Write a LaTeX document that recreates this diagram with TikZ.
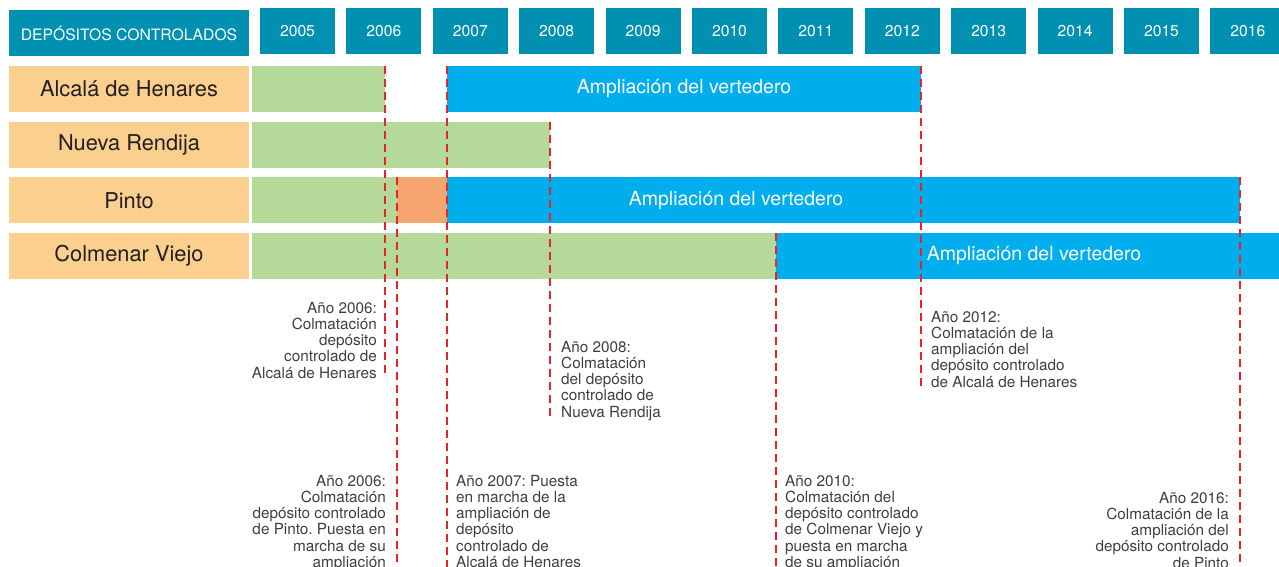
\documentclass[tikz,border=0pt]{standalone}
\usepackage{fontspec}
\setmainfont{TeX Gyre Heros}
\usetikzlibrary{positioning}
\definecolor{headteal}{RGB}{0,145,178}
\definecolor{namepeach}{RGB}{251,207,142}
\definecolor{greenbar}{RGB}{181,217,152}
\definecolor{bluebar}{RGB}{0,174,238}
\definecolor{orangebar}{RGB}{246,165,111}
\definecolor{cutred}{RGB}{236,34,41}
\definecolor{nametext}{RGB}{35,31,32}
\definecolor{notegray}{RGB}{62,62,62}
\frenchspacing
\begin{document}
\begin{tikzpicture}[x=1pt, y=-1pt, node distance=86.4pt,
  yearbox/.style={fill=headteal, text=white, minimum width=75pt, minimum height=46pt, inner sep=0pt, outer sep=0pt, font=\fontsize{15.7}{18}\selectfont},
  namebox/.style={fill=namepeach, text=nametext, minimum width=240pt, minimum height=46pt, inner sep=0pt, outer sep=0pt, font=\fontsize{21.8}{24}\selectfont},
  bar/.style={minimum height=46pt, inner sep=0pt, outer sep=0pt, anchor=north west, text=white, font=\fontsize{19.5}{22}\selectfont},
  cutline/.style={draw=cutred, line width=2.6pt, dash pattern=on 8pt off 5pt},
  note/.style={inner sep=0pt, text=notegray, font=\fontsize{15.3}{16.2}\selectfont}]

  \useasboundingbox (0,0) rectangle (1279,566);

  % Header row
  \node[yearbox, minimum width=240pt] (head) at (129,33) {DEPÓSITOS CONTROLADOS};
  \node[yearbox] (y2005) at (297.5,31) {2005};
  \node[yearbox, right of=y2005] (y2006) {2006};
  \node[yearbox, right of=y2006] (y2007) {2007};
  \node[yearbox, right of=y2007] (y2008) {2008};
  \node[yearbox, right of=y2008] (y2009) {2009};
  \node[yearbox, right of=y2009] (y2010) {2010};
  \node[yearbox, right of=y2010] (y2011) {2011};
  \node[yearbox, right of=y2011] (y2012) {2012};
  \node[yearbox, right of=y2012] (y2013) {2013};
  \node[yearbox, right of=y2013] (y2014) {2014};
  \node[yearbox, right of=y2014] (y2015) {2015};
  \node[yearbox, right of=y2015] (y2016) {2016};

  % Names
  \node[namebox] (alcala) at (129,89) {Alcalá de Henares};
  \node[namebox, below of=alcala, node distance=55.67pt] (rendija) {Nueva Rendija};
  \node[namebox, below of=rendija, node distance=55.67pt] (pinto) {Pinto};
  \node[namebox, below of=pinto, node distance=55.67pt] (colmenar) {Colmenar Viejo};

  % Bars
  \node[bar, fill=greenbar, minimum width=133pt] (alcOld) at (252,66) {};
  \node[bar, fill=bluebar, minimum width=474pt] (alcNew) at (447,66) {Ampliación del vertedero};
  \node[bar, fill=greenbar, minimum width=298pt] (renOld) at (252,121.67) {};
  \node[bar, fill=greenbar, minimum width=145pt] (pinOld) at (252,177.33) {};
  \node[bar, fill=orangebar, minimum width=50pt] (pinFull) at (397,177.33) {};
  \node[bar, fill=bluebar, minimum width=793pt] (pinNew) at (447,177.33) {};
  \node[text=white, font=\fontsize{19.5}{22}\selectfont] (pinText) at (736,200.33) {Ampliación del vertedero};
  \node[bar, fill=greenbar, minimum width=524pt] (colOld) at (252,233) {};
  \node[bar, fill=bluebar, minimum width=516pt] (colNew) at (776,233) {Ampliación del vertedero};

  % Line ends
  \coordinate (endA) at (385,377);
  \coordinate (endB) at (397,570);
  \coordinate (endC) at (447,570);
  \coordinate (endD) at (550,417);
  \coordinate (endE) at (776,570);
  \coordinate (endF) at (921,387);
  \coordinate (endG) at (1240,570);

  % dashed lines
  \draw[cutline] (alcOld.north east) -- (endA);
  \draw[cutline] (pinFull.north west) -- (endB);
  \draw[cutline] (alcNew.north west) -- (endC);
  \draw[cutline] (renOld.north east) -- (endD);
  \draw[cutline] (colNew.north west) -- (endE);
  \draw[cutline] (alcNew.north east) -- (endF);
  \draw[cutline] (pinNew.north east) -- (endG);

  % Notes
  \node[note, align=right, anchor=north east] (noteA) at (377,302) {Año 2006:\\Colmatación\\depósito\\controlado de\\Alcalá de Henares};
  \node[note, align=left, anchor=north west] (noteB) at (561,341) {Año 2008:\\Colmatación\\del depósito\\controlado de\\Nueva Rendija};
  \node[note, align=left, anchor=north west] (noteC) at (931,311) {Año 2012:\\Colmatación de la\\ampliación del\\depósito controlado\\de Alcalá de Henares};
  \node[note, align=right, anchor=north east] (noteD) at (386,475) {Año 2006:\\Colmatación\\depósito controlado\\de Pinto. Puesta en\\marcha de su\\ampliación};
  \node[note, align=left, anchor=north west] (noteE) at (456,475) {Año 2007: Puesta\\en marcha de la\\ampliación de\\depósito\\controlado de\\Alcalá de Henares};
  \node[note, align=left, anchor=north west] (noteF) at (785,475) {Año 2010:\\Colmatación del\\depósito controlado\\de Colmenar Viejo y\\puesta en marcha\\de su ampliación};
  \node[note, align=right, anchor=north east] (noteG) at (1229,492) {Año 2016:\\Colmatación de la\\ampliación del\\depósito controlado\\de Pinto};

\end{tikzpicture}
\end{document}
